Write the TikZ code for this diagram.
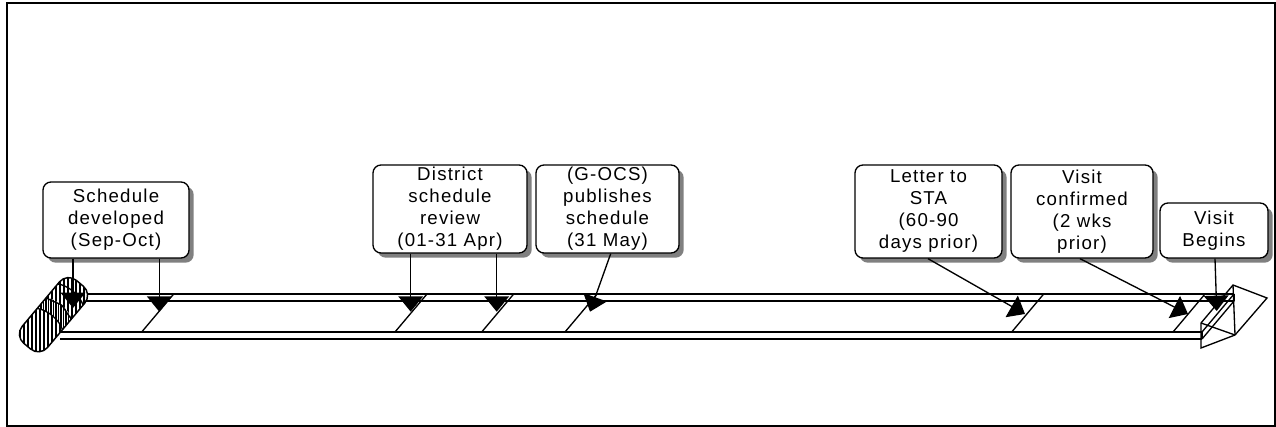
\documentclass[tikz,border=0pt]{standalone}
\usepackage{fontspec}
\newfontfamily\boxfont{Liberation Sans}[LetterSpace=6.5]
\usetikzlibrary{arrows.meta,shadows,calc}
\begin{document}
\begin{tikzpicture}[x=0.75pt,y=-0.75pt,
  every node/.style={font=\boxfont\fontsize{14}{16.5}\selectfont},
  box/.style={draw=black,line width=1pt,fill=white,rounded corners=6pt,align=center,inner sep=0pt,
    drop shadow={shadow xshift=3.5pt,shadow yshift=-3.5pt,fill=black!50,opacity=1}},
  barline/.style={line width=1pt},
  conn/.style={line width=1pt,-{Triangle[length=11.5pt,width=18.5pt]}},
  hatch/.style={line width=1pt},
  cylshape/.style={shift={(53.5,314.7)},rotate=50,rounded corners=9pt}]
\useasboundingbox (0,0) rectangle (1276,427);
\draw[line width=1.2pt] (7,3) rectangle (1275,426);

% bar (wireframe box)
\draw[barline] (60,294) -- (1234,294);
\draw[barline] (60,301) -- (1234,301);
\draw[barline] (60,332) -- (1202,332);
\draw[barline] (60,339) -- (1202,339);
\draw[barline] (1234,294) -- (1202,332);
\draw[barline] (1234,301) -- (1202,339);
\draw[barline] (1234,294) -- (1234,301);
\draw[barline] (1202,332) -- (1202,339);
% dividers
\foreach \xb in {141.7,395,481.7,565,1011.7,1173}
  \draw[barline] (\xb,332) -- ++(32,-38);

% arrowhead at right end
\coordinate (ha) at (1233,285);
\coordinate (hp) at (1267,298);
\coordinate (hr) at (1235,335);
\coordinate (hb) at (1201,348);
\coordinate (hf) at (1201,323);
\draw[barline,line join=miter] (ha) -- (hp) -- (hr) -- (hb) -- (hf) -- cycle;
\draw[barline] (hf) -- (hr);
\draw[barline] (ha) -- (hr);

% rolled end (cylinder)
\fill[white,cylshape] (-41,-16.5) rectangle (41,16.5);
\begin{scope}
  \clip[cylshape] (-41,-16.5) rectangle (41,16.5);
  \foreach \x in {16,20,...,92} \draw[hatch] (\x,275) -- (\x,355);
  \begin{scope}
    \clip[shift={(53.5,314.7)},rotate=50] (-6,-17) .. controls (0,-8) and (0,8) .. (-6,17) -- (8,17) .. controls (14,8) and (14,-8) .. (8,-17) -- cycle;
    \fill[white] (20,280) rectangle (90,350);
    \foreach \x in {16,18.5,...,92} \draw[line width=0.9pt] (\x,275) -- (\x,355);
  \end{scope}
  \draw[line width=1pt,shift={(53.5,314.7)},rotate=50] (-6,-17) .. controls (0,-8) and (0,8) .. (-6,17);
  \draw[line width=1pt,shift={(53.5,314.7)},rotate=50] (8,-17) .. controls (14,8) and (14,-8) .. (8,17);
  \draw[line width=1pt,shift={(53.5,314.7)},rotate=50] (26,-17) .. controls (32,-8) and (32,8) .. (26,17);
\end{scope}
\draw[line width=1.1pt,cylshape] (-41,-16.5) rectangle (41,16.5);

% callout boxes
\node[box,minimum width=109.5pt,minimum height=57pt] (b1) at (116,220) {Schedule\\developed\\(Sep-Oct)};
\node[box,minimum width=115.5pt,minimum height=66pt] (b2) at (450,209) {District\\schedule\\review\\(01-31 Apr)};
\node[box,minimum width=107.25pt,minimum height=66pt] (b3) at (607.5,209) {(G-OCS)\\publishes\\schedule\\(31 May)};
\node[box,minimum width=110.25pt,minimum height=69.75pt] (b4) at (928.5,211.5) {Letter to\\STA\\(60-90\\days prior)};
\node[box,minimum width=106.5pt,minimum height=69.75pt] (b5) at (1082,211.5) {Visit\\confirmed\\(2 wks\\prior)};
\node[box,minimum width=81pt,minimum height=41.25pt] (b6) at (1214,230.5) {\rule{0pt}{6pt}Visit\\Begins};

% connectors
\coordinate (t1) at (73,308);
\coordinate (t2) at (159.3,311.7);
\coordinate (t3) at (410.7,311.7);
\coordinate (t4) at (496.7,311.7);
\coordinate (s5) at (610.7,0);
\coordinate (t5) at (590,311.7);
\coordinate (s6) at (928,0);
\coordinate (t6) at (1025,314);
\coordinate (s7) at (1080,0);
\coordinate (t7) at (1188,314);
\coordinate (s8) at (1215,0);
\coordinate (t8) at (1216.7,311);
\draw[conn] (b1.south -| t1) -- (t1);
\draw[conn] (b1.south -| t2) -- (t2);
\draw[conn] (b2.south -| t3) -- (t3);
\draw[conn] (b2.south -| t4) -- (t4);
\draw[conn] (b3.south -| s5) -- (t5);
\draw[conn] (b4.south -| s6) -- (t6);
\draw[conn] (b5.south -| s7) -- (t7);
\draw[conn] (b6.south -| s8) -- (t8);
\end{tikzpicture}
\end{document}
